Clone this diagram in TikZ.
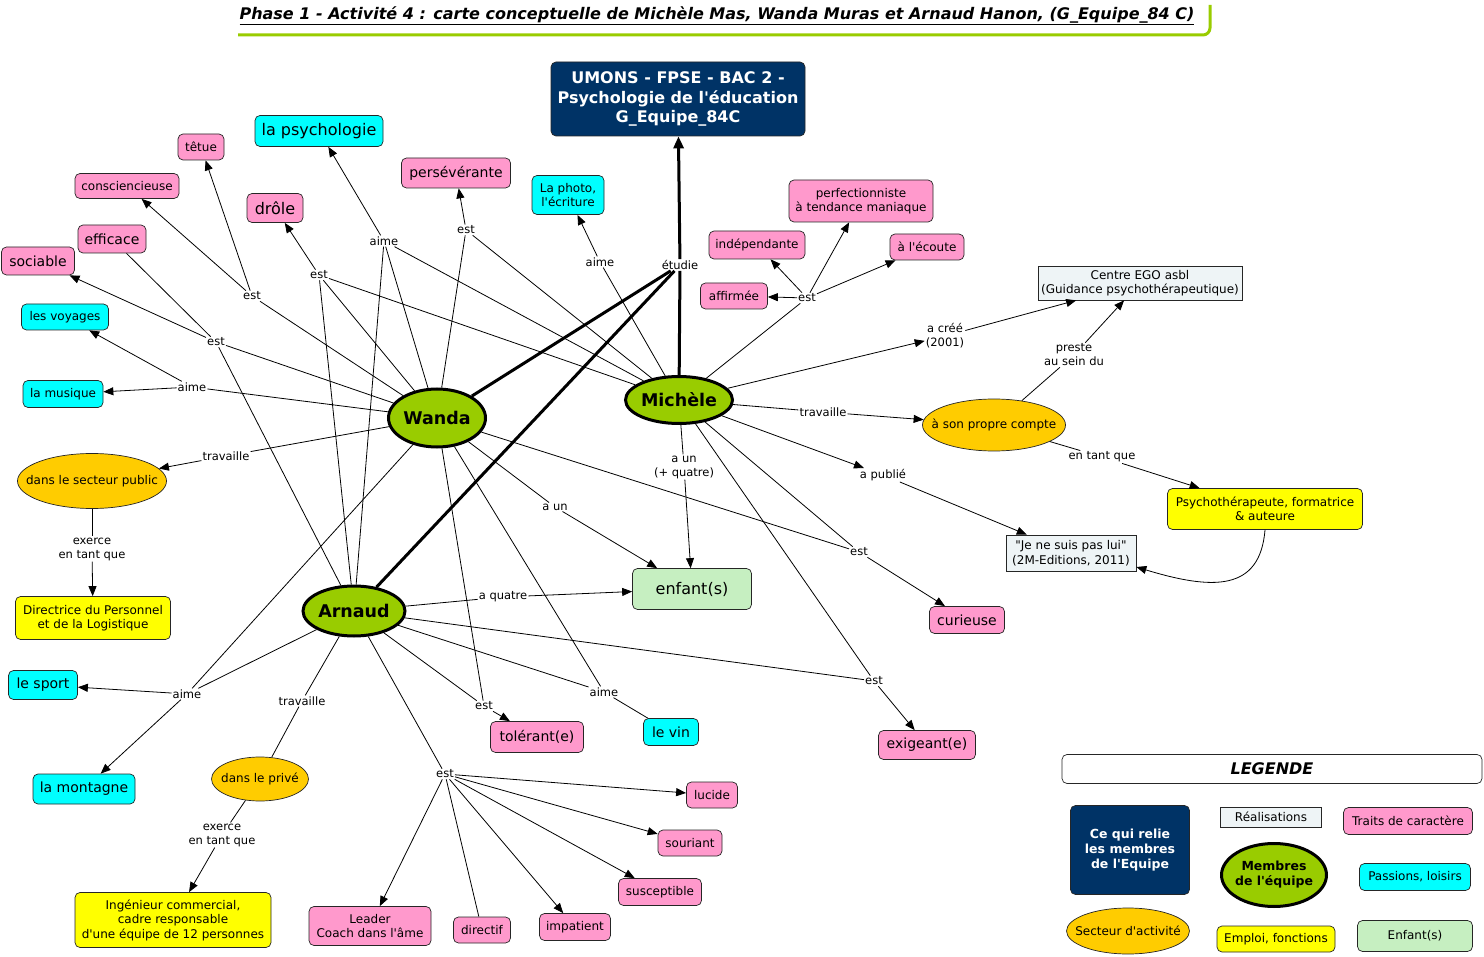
\documentclass[tikz,border=0pt]{standalone}
\usepackage{fontspec}
\setmainfont{DejaVu Sans}[Ligatures=TeXOff]
\usetikzlibrary{arrows.meta,shapes.geometric}
\definecolor{pinkc}{HTML}{FF99CC}
\definecolor{cyanc}{HTML}{00FFFF}
\definecolor{yellowc}{HTML}{FFFF00}
\definecolor{orangec}{HTML}{FFCC00}
\definecolor{memberc}{HTML}{99CC00}
\definecolor{navyc}{HTML}{003366}
\definecolor{kidc}{HTML}{C6EFC1}
\definecolor{realc}{HTML}{EEF4F6}
\definecolor{titlec}{HTML}{99CC00}
\newcommand\fsS{\fontsize{12}{14.5}\selectfont}
\newcommand\fsM{\fontsize{14}{17}\selectfont}
\newcommand\fsB{\fontsize{16}{19}\selectfont}
\newcommand\fsL{\fontsize{11.5}{14}\selectfont}
\newcommand\zb[1]{\makebox[0pt][c]{#1}}
\newcommand\zbt[1]{\makebox[0pt][c]{\begin{tabular}{@{}c@{}}#1\end{tabular}}}
\tikzset{
 sz/.style 2 args={minimum width=#1pt, minimum height=#2pt},
 concept/.style={draw=black!85, line width=0.7pt, rounded corners=5pt, inner sep=0pt, align=center, font=\fsS},
 trait/.style={concept, fill=pinkc},
 passion/.style={concept, fill=cyanc},
 job/.style={concept, fill=yellowc},
 kid/.style={concept, fill=kidc},
 real/.style={draw=black!85, line width=0.7pt, fill=realc, inner sep=0pt, align=center, font=\fsS},
 sector/.style={ellipse, draw=black!85, line width=0.7pt, fill=orangec, inner sep=0pt, align=center, font=\fsS},
 member/.style={ellipse, draw=black, line width=3pt, fill=memberc, inner sep=0pt, align=center, font=\fontsize{17.5}{20}\selectfont\bfseries},
 navybox/.style={rounded corners=5pt, fill=navyc, draw=black!85, line width=0.7pt, text=white, align=center, inner sep=0pt},
 lbl/.style={font=\fsL, inner sep=1pt, align=center},
 conn/.style={line width=0.8pt},
 arr/.style={conn, -{Triangle[length=10pt,width=8pt]}},
 bond/.style={line width=3pt},
 bondarr/.style={line width=3pt, -{Triangle[length=12pt,width=10pt]}},
}
\begin{document}
\begin{tikzpicture}[x=1pt,y=-1pt]
\useasboundingbox (0,0) rectangle (1484,957);
% title
\draw[titlec, line width=3pt, rounded corners=7pt] (238,35) -- (1210,35) -- (1210,5);
\node[inner sep=0pt] (title) at (717,16) {\fontsize{16}{18}\selectfont\bfseries\itshape\underline{Phase 1 - Activité 4 : carte conceptuelle de Michèle Mas, Wanda Muras et Arnaud Hanon, (G\_Equipe\_84 C)}};
% central
\node[navybox, sz={254}{74}, font=\fontsize{16}{19.5}\selectfont\bfseries] (umons) at (678,99) {UMONS - FPSE - BAC 2 -\\Psychologie de l'éducation\\G\_Equipe\_84C};
\node[member, sz={97}{58}] (W) at (437,418) {\zb{Wanda}};
\node[member, sz={107}{47}] (M) at (679,400) {\zb{Michèle}};
\node[member, sz={102}{50}] (A) at (354,611) {\zb{Arnaud}};
% concepts
\node[trait, sz={46}{26}] (tetue) at (201,147) {têtue};
\node[passion, sz={128}{31}, font=\fsB] (psycho) at (319,131) {la psychologie};
\node[trait, sz={104}{25}] (consc) at (127,186) {consciencieuse};
\node[trait, sz={56}{29}, font=\fsB] (drole) at (275,208) {drôle};
\node[trait, sz={109}{30}, font=\fsM] (perse) at (456,173) {persévérante};
\node[passion, sz={72}{39}] (photo) at (568,195) {La photo,\\l'écriture};
\node[trait, sz={68}{28}, font=\fsM] (efficace) at (112,239) {efficace};
\node[trait, sz={73}{28}, font=\fsM] (sociable) at (38,261) {sociable};
\node[passion, sz={87}{26}] (voyages) at (65,317) {les voyages};
\node[passion, sz={80}{27}] (musique) at (63,394) {la musique};
\node[trait, sz={144}{42}] (perfect) at (861,201) {perfectionniste\\à tendance maniaque};
\node[trait, sz={96}{28}] (indep) at (757,245) {indépendante};
\node[trait, sz={74}{26}] (ecoute) at (927,247) {à l'écoute};
\node[trait, sz={67}{26}] (affirmee) at (734,296) {affirmée};
\node[real, sz={204}{34}] (ego) at (1140,283) {Centre EGO asbl\\(Guidance psychothérapeutique)};
\node[sector, sz={143}{52}] (propre) at (994,425) {\zb{à son propre compte}};
\node[job, sz={195}{41}] (psychoth) at (1265,509) {Psychothérapeute, formatrice\\\& auteure};
\node[real, sz={130}{36}] (jene) at (1071,553) {"Je ne suis pas lui"\\(2M-Editions, 2011)};
\node[sector, sz={149}{55}] (secteur) at (92,481) {\zb{dans le secteur public}};
\node[job, sz={155}{43}] (directrice) at (93,618) {Directrice du Personnel\\et de la Logistique};
\node[kid, sz={119}{41}, font=\fsB] (enfant) at (692,589) {enfant(s)};
\node[trait, sz={75}{27}, font=\fsM] (curieuse) at (967,620) {curieuse};
\node[trait, sz={97}{29}, font=\fsM] (exigeant) at (927,745) {exigeant(e)};
\node[passion, sz={55}{27}, font=\fsM] (levin) at (671,732) {le vin};
\node[trait, sz={93}{31}, font=\fsM] (tolerant) at (537,737) {tolérant(e)};
\node[passion, sz={69}{29}, font=\fsM] (sport) at (43,685) {le sport};
\node[passion, sz={102}{30}, font=\fsM] (montagne) at (84,789) {la montagne};
\node[sector, sz={97}{44}] (prive) at (260,779) {\zb{dans le privé}};
\node[job, sz={196}{55}] (ingenieur) at (173,920) {Ingénieur commercial,\\cadre responsable\\d'une équipe de 12 personnes};
\node[trait, sz={122}{39}] (leader) at (370,926) {Leader\\Coach dans l'âme};
\node[trait, sz={57}{26}] (directif) at (482,930) {directif};
\node[trait, sz={71}{27}] (impatient) at (575,927) {impatient};
\node[trait, sz={83}{27}] (susceptible) at (660,892) {susceptible};
\node[trait, sz={64}{26}] (souriant) at (690,843) {souriant};
\node[trait, sz={51}{26}] (lucide) at (712,795) {lucide};
% linking labels
\node[lbl] (etudie) at (680,265) {étudie};
\node[lbl] (estA) at (252,296) {est};
\node[lbl] (estB) at (216,342) {est};
\node[lbl] (aimeC) at (192,387) {aime};
\node[lbl] (estD) at (319,275) {est};
\node[lbl] (aimeE) at (384,241) {aime};
\node[lbl] (estF) at (466,230) {est};
\node[lbl] (aimeG) at (600,262) {aime};
\node[lbl] (estH) at (807,298) {est};
\node[lbl] (acree) at (945,336) {a créé\\(2001)};
\node[lbl] (preste) at (1074,355) {preste\\au sein du};
\node[lbl] (entant) at (1102,457) {en tant que};
\node[lbl] (travM) at (823,412) {travaille};
\node[lbl] (apublie) at (883,475) {a publié};
\node[lbl] (aunq) at (684,467) {a un\\(+ quatre)};
\node[lbl] (aun) at (555,507) {a un};
\node[lbl] (aquatre) at (503,597) {a quatre};
\node[lbl] (estI) at (859,552) {est};
\node[lbl] (estJ) at (874,681) {est};
\node[lbl] (travW) at (226,456) {travaille};
\node[lbl] (exerceA) at (92,549) {exerce\\en tant que};
\node[lbl] (aimeK) at (187,694) {aime};
\node[lbl] (travA) at (302,701) {travaille};
\node[lbl] (exerceB) at (222,835) {exerce\\en tant que};
\node[lbl] (estL) at (484,706) {est};
\node[lbl] (aimeN) at (604,692) {aime};
\node[lbl] (estO) at (445,774) {est};
% thick links
\draw[bond] (W) -- (etudie);
\draw[bond] (A) -- (etudie);
\draw[bond] (M) -- (etudie);
\draw[bondarr] (etudie) -- (umons);
% connectors
\draw[conn] (W) -- (estA);
\draw[arr] (estA) -- (tetue);
\draw[arr] (estA) -- (consc);
\draw[conn] (W) -- (estB);
\draw[conn] (A) -- (estB);
\draw[arr] (estB) -- (sociable);
\draw[conn] (estB) -- (efficace);
\draw[conn] (W) -- (aimeC);
\draw[arr] (aimeC) -- (voyages);
\draw[arr] (aimeC) -- (musique);
\draw[conn] (W) -- (estD);
\draw[conn] (A) -- (estD);
\draw[conn] (M) -- (estD);
\draw[arr] (estD) -- (drole);
\draw[conn] (W) -- (aimeE);
\draw[conn] (A) -- (aimeE);
\draw[conn] (M) -- (aimeE);
\draw[arr] (aimeE) -- (psycho);
\draw[conn] (W) -- (estF);
\draw[conn] (M) -- (estF);
\draw[arr] (estF) -- (perse);
\draw[conn] (M) -- (aimeG);
\draw[arr] (aimeG) -- (photo);
\draw[conn] (M) -- (estH);
\draw[arr] (estH) -- (affirmee);
\draw[arr] (estH) -- (indep);
\draw[arr] (estH) -- (perfect);
\draw[arr] (estH) -- (ecoute);
\draw[arr] (M) -- (acree);
\draw[arr] (acree) -- (ego);
\draw[conn] (M) -- (travM);
\draw[arr] (travM) -- (propre);
\draw[conn] (propre) -- (preste);
\draw[arr] (preste) -- (ego);
\draw[conn] (propre) -- (entant);
\draw[arr] (entant) -- (psychoth);
\draw[arr] (psychoth.south) .. controls (1260,592) and (1212,590) .. ([yshift=-14pt]jene.east);
\draw[arr] (M) -- (apublie);
\draw[arr] (apublie) -- (jene);
\draw[conn] (M) -- (aunq);
\draw[arr] (aunq) -- (enfant);
\draw[conn] (W) -- (aun);
\draw[arr] (aun) -- (enfant);
\draw[conn] (A) -- (aquatre);
\draw[arr] (aquatre) -- (enfant);
\draw[conn] (W) -- (estI);
\draw[conn] (M) -- (estI);
\draw[arr] (estI) -- (curieuse);
\draw[conn] (M) -- (estJ);
\draw[conn] (A) -- (estJ);
\draw[arr] (estJ) -- (exigeant);
\draw[conn] (W) -- (travW);
\draw[arr] (travW) -- (secteur);
\draw[conn] (secteur) -- (exerceA);
\draw[arr] (exerceA) -- (directrice);
\draw[conn] (A) -- (aimeK);
\draw[conn] (W) -- (aimeK);
\draw[arr] (aimeK) -- (sport);
\draw[arr] (aimeK) -- (montagne);
\draw[conn] (A) -- (travA);
\draw[conn] (travA) -- (prive);
\draw[conn] (prive) -- (exerceB);
\draw[arr] (exerceB) -- (ingenieur);
\draw[conn] (A) -- (estL);
\draw[conn] (W) -- (estL);
\draw[arr] (estL) -- (tolerant);
\draw[conn] (A) -- (aimeN);
\draw[conn] (W) -- (aimeN);
\draw[conn] (aimeN) -- (levin);
\draw[conn] (A) -- (estO);
\draw[arr] (estO) -- (lucide);
\draw[arr] (estO) -- (souriant);
\draw[arr] (estO) -- (susceptible);
\draw[arr] (estO) -- (impatient);
\draw[conn] (estO) -- (directif);
\draw[arr] (estO) -- (leader);
% legend
\node[concept, fill=white, sz={420}{29}, font=\fontsize{16}{19}\selectfont\bfseries\itshape] (legende) at (1272,769) {LEGENDE};
\node[navybox, sz={119}{89}, font=\fontsize{12.5}{15}\selectfont\bfseries] (relie) at (1130,850) {Ce qui relie\\les membres\\de l'Equipe};
\node[real, sz={101}{20}] (realis) at (1271,817) {Réalisations};
\node[trait, sz={129}{27}] (traits) at (1408,821) {Traits de caractère};
\node[member, sz={105}{63}, font=\fontsize{12.5}{15}\selectfont\bfseries] (membres) at (1274,875) {\zbt{Membres\\de l'équipe}};
\node[passion, sz={111}{27}] (passions) at (1415,877) {Passions, loisirs};
\node[sector, sz={123}{46}] (secteurL) at (1128,931) {\zb{Secteur d'activité}};
\node[job, sz={118}{26}] (emploi) at (1276,939) {Emploi, fonctions};
\node[kid, sz={115}{31}] (enfantsL) at (1415,936) {Enfant(s)};
\end{tikzpicture}
\end{document}
